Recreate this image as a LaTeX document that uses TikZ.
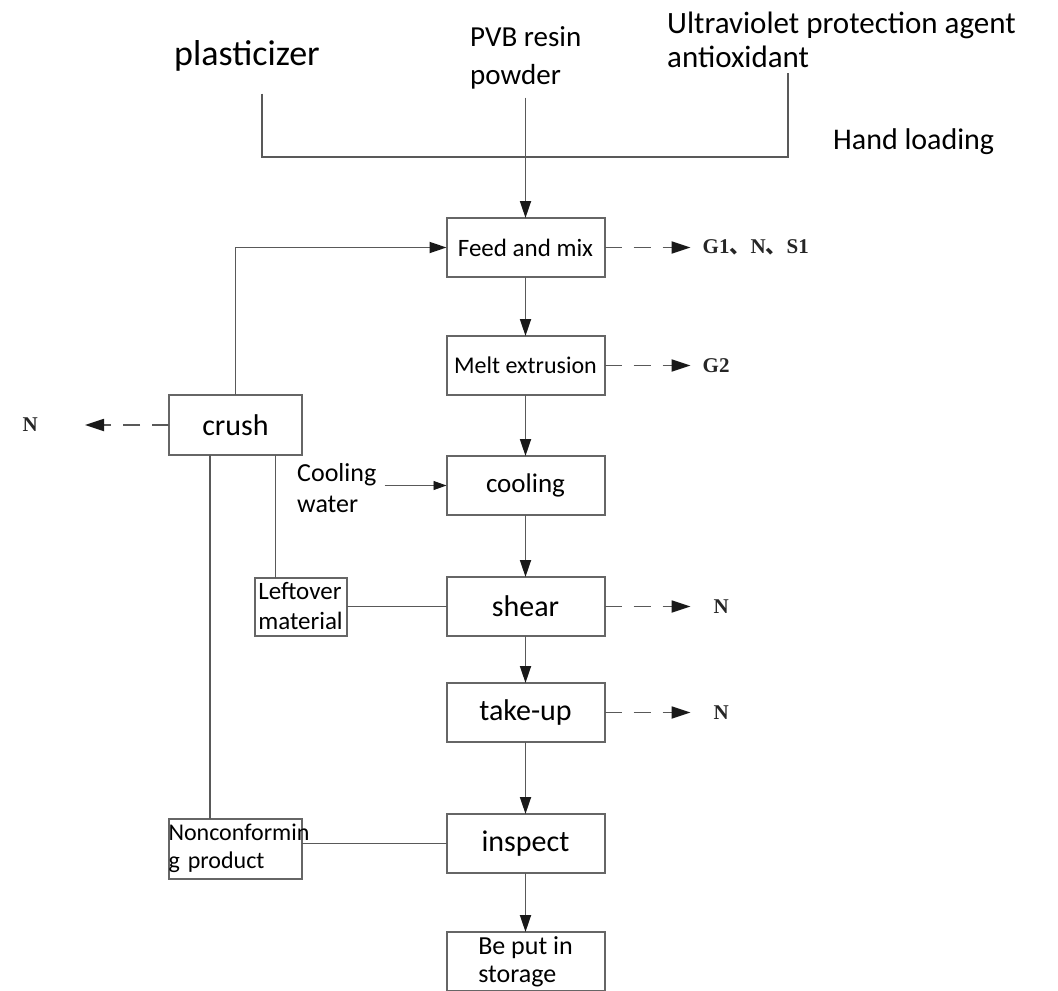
\documentclass[tikz,border=0pt]{standalone}
\usepackage{fontspec}
\setmainfont{Carlito}
\newfontfamily\outfont{Liberation Serif}
\newfontfamily\cjkfont{Noto Sans CJK SC}
\usetikzlibrary{
  arrows.meta,
  positioning,
}
\tikzset{
  proc/.style={
    rectangle,
    draw=black!60,
    line width=2pt,
    minimum width=158pt,
    minimum height=59pt,
    inner sep=2pt,
    outer sep=0pt,
    text centered,
    font=\fontsize{25}{30}\selectfont
  },
  procbig/.style={
    proc,
    font=\fontsize{30}{36}\selectfont
  },
  sidebox/.style={
    rectangle,
    draw=black!60,
    line width=2pt,
    inner sep=0pt,
    outer sep=0pt,
    align=left,
    font=\fontsize{25}{30}\selectfont
  },
  rawtext/.style={
    inner sep=0pt,
    align=left
  },
  outlbl/.style={
    inner sep=0pt,
    text=black!85,
    font=\outfont\bfseries\fontsize{21}{26}\selectfont
  },
  link/.style={
    draw=black!65,
    line width=1.8pt
  },
  arrow/.style={
    link,
    -{Triangle[length=17pt, width=11pt, color=black!90]}
  },
  dasharrow/.style={
    link,
    dash pattern=on 17pt off 12pt,
    -{Triangle[length=19pt, width=12pt, color=black!90]}
  },
  thinarrow/.style={
    draw=black!65,
    line width=0.9pt,
    -{Triangle[length=13pt, width=9pt, color=black!90]}
  },
}
\newcommand{\dun}{{\cjkfont 、}}

\begin{document}
\begin{tikzpicture}[x=1pt, y=-1pt]
  \useasboundingbox (0,0) rectangle (1058,991);

  % Raw materials
  \node (plast) [rawtext, font=\fontsize{36}{43}\selectfont] at (247,56) {plasticizer};
  \node (pvb) [rawtext, anchor=west, font=\fontsize{29}{38}\selectfont] at (470,58) {PVB resin\\powder};
  \node (uv) [rawtext, anchor=west, font=\fontsize{31}{34}\selectfont] at (667,40) {Ultraviolet protection agent\\antioxidant};
  \node (hand) [rawtext, anchor=west, font=\fontsize{30}{36}\selectfont] at (833,142) {Hand loading};

  \coordinate (hubL) at (262,157);
  \coordinate (hubR) at (788,157);

  % Process chain
  \node (feed) [proc] at (525.5,247.5) {Feed and mix};
  \node (melt) [proc, below=59pt of feed, font=\fontsize{24}{29}\selectfont] {Melt extrusion};
  \node (cooling) [proc, below=61pt of melt, font=\fontsize{27}{32}\selectfont] {cooling};
  \node (shear) [procbig, below=62pt of cooling] {shear};
  \node (takeup) [procbig, below=47pt of shear] {take-up};
  \node (inspect) [procbig, below=72pt of takeup] {inspect};
  \node (storage) [proc, below=59pt of inspect, align=left, font=\fontsize{26}{28}\selectfont] {Be put in\\storage};

  % Recycling side
  \node (crush) [procbig, minimum width=133pt, minimum height=60pt] at (235.5,425) {crush};
  \node (leftover) [sidebox, minimum width=92pt, minimum height=58pt, inner sep=1pt, left=100pt of shear] {Leftover\\material};
  \node (noncon) [sidebox, text width=133pt, minimum height=60pt, font=\fontsize{24}{28}\selectfont,
    left=145pt of inspect, yshift=-5pt] {\mbox{Nonconformin}\\g product};
  \node (cw) [rawtext, anchor=west, font=\fontsize{26}{31}\selectfont] at (297,488) {Cooling\\water};

  % Emissions
  \node (gfeed) [outlbl, right=98pt of feed] {G1\dun N\dun S1};
  \node (gmelt) [outlbl, right=98pt of melt] {G2};
  \node (nshear) [outlbl, right=109pt of shear] {N};
  \node (ntake) [outlbl, right=109pt of takeup] {N};
  \node (ncrush) [outlbl, left=131pt of crush] {N};

  % Feed lines
  \draw [link, shorten <=22pt, shorten >=5pt] (plast.south -| hubL) -- (hubL) -- (hubR) -- (uv.south -| hubR);
  \draw [arrow, shorten <=8pt] (feed.north |- pvb.south) -- (feed.north);

  % Main flow
  \draw [arrow] (feed) -- (melt);
  \draw [arrow] (melt) -- (cooling);
  \draw [arrow] (cooling) -- (shear);
  \draw [arrow] (shear) -- (takeup);
  \draw [arrow] (takeup) -- (inspect);
  \draw [arrow] (inspect) -- (storage);
  \draw [thinarrow, shorten <=8pt] (cw.east |- cooling.west) -- (cooling.west);

  % Returns
  \draw [arrow] (crush.north) |- (feed.west);
  \draw [link] ([xshift=40pt]crush.south) -- ([xshift=40pt]crush.south |- leftover.north);
  \draw [link] ([xshift=-25.5pt]crush.south) -- ([xshift=-25.5pt]crush.south |- noncon.north);
  \draw [link] (leftover.east) -- (shear.west);
  \draw [link] (inspect.west -| noncon.east) -- (inspect.west);

  % Outputs
  \draw [dasharrow, shorten >=12pt] (feed) -- (gfeed);
  \draw [dasharrow, shorten >=12pt] (melt) -- (gmelt);
  \draw [dasharrow, shorten >=23pt] (shear) -- (nshear);
  \draw [dasharrow, shorten >=23pt] (takeup) -- (ntake);
  \draw [dasharrow, shorten >=47pt] (crush) -- (ncrush);

\end{tikzpicture}
\end{document}
